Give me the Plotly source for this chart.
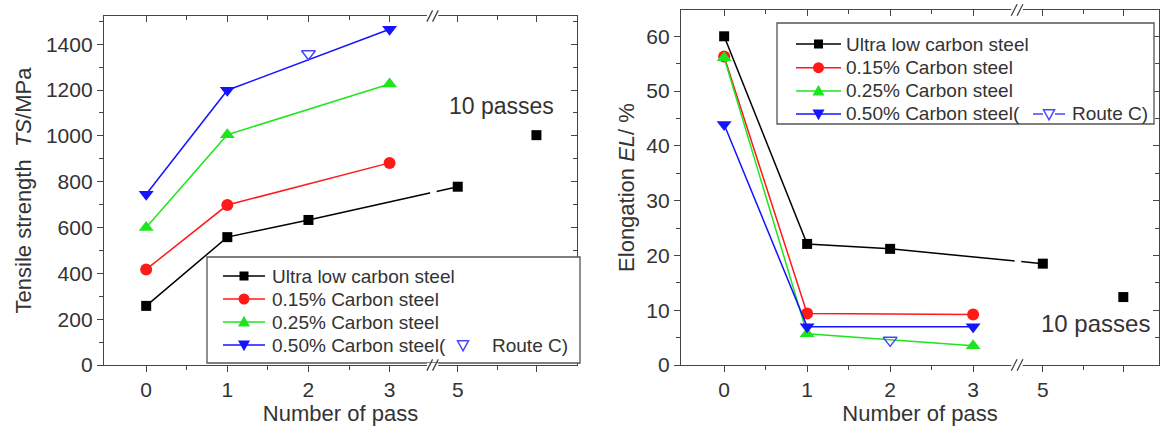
import numpy as np
import plotly.graph_objects as go

# ---------------- data ----------------
passes_ultra = [0, 1, 2, 5]
passes_alloy = [0, 1, 3]
pass_route_c = [2]
pass_ten = [10]

ts_ultra = [258, 558, 633, 778]
ts_ultra_10 = [1003]
ts_015 = [417, 698, 882]
ts_025 = [600, 1005, 1226]
ts_050 = [745, 1199, 1465]
ts_route_c = [1358]

el_ultra = [60.0, 22.1, 21.2, 18.5]
el_ultra_10 = [12.4]
el_015 = [56.3, 9.4, 9.2]
el_025 = [56.1, 5.7, 3.5]
el_050 = [43.9, 7.0, 7.0]
el_route_c = [4.5]

series_names = ["Ultra low carbon steel", "0.15% Carbon steel",
                "0.25% Carbon steel", "0.50% Carbon steel("]
route_c_name = "Route C)"

x_tick_labels = ["0", "1", "2", "3", "5", ""]
tick_passes = [0, 1, 2, 3, 5, 10]
minor_passes = [0.5, 1.5, 2.5, 7.5]

# broken x axis: passes 0-3 linear, then 5 and 10 after the break
BREAK_POS = 3.53
AFTER = {5: 3.84, 7.5: 4.325, 10: 4.81}


def xpos(p):
    return [v if v <= 3 else AFTER[v] for v in p]


W, H = 1160, 430
FONT = "Liberation Sans, Arial, sans-serif"
TXT = "#333333"
AX = "#444444"
BLACK, RED, GREEN, BLUE = "#000000", "#ff1a1a", "#1ee61e", "#1414ff"
OPEN_BLUE = "#4646ff"
COLORS = [BLACK, RED, GREEN, BLUE]
SYMBOLS = ["square", "circle", "triangle-up", "triangle-down"]
SIZES = [10, 12, 13, 13]

fig = go.Figure()


def series(x, y, k, xa, ya, line=True):
    fig.add_trace(go.Scatter(
        x=xpos(x), y=y, xaxis=xa, yaxis=ya, name=series_names[k],
        mode="lines+markers" if line else "markers",
        line=dict(color=COLORS[k], width=1.5),
        marker=dict(color=COLORS[k], symbol=SYMBOLS[k], size=SIZES[k], line=dict(width=0)),
        showlegend=False, hoverinfo="x+y"))


def route_c(x, y, xa, ya):
    fig.add_trace(go.Scatter(
        x=xpos(x), y=y, xaxis=xa, yaxis=ya, mode="markers", name="Route C",
        marker=dict(color=OPEN_BLUE, symbol="triangle-down-open", size=12,
                    line=dict(width=1.5, color=OPEN_BLUE)),
        showlegend=False, hoverinfo="x+y"))


# left panel
series(passes_ultra, ts_ultra, 0, "x", "y")
series(pass_ten, ts_ultra_10, 0, "x", "y", line=False)
series(passes_alloy, ts_015, 1, "x", "y")
series(passes_alloy, ts_025, 2, "x", "y")
series(passes_alloy, ts_050, 3, "x", "y")
route_c(pass_route_c, ts_route_c, "x", "y")

# right panel
series(passes_ultra, el_ultra, 0, "x2", "y2")
series(pass_ten, el_ultra_10, 0, "x2", "y2", line=False)
series(passes_alloy, el_015, 1, "x2", "y2")
series(passes_alloy, el_025, 2, "x2", "y2")
series(passes_alloy, el_050, 3, "x2", "y2")
route_c(pass_route_c, el_route_c, "x2", "y2")

# dummy traces so the inward mirror axes are drawn
for xa, ya in [("x3", "y"), ("x", "y3"), ("x4", "y2"), ("x2", "y4")]:
    fig.add_trace(go.Scatter(x=[None], y=[None], xaxis=xa, yaxis=ya,
                             showlegend=False, hoverinfo="skip"))

tickvals = xpos(tick_passes)
minorvals = xpos(minor_passes)

left_dom = [104 / W, 577 / W]
right_dom = [681 / W, 1159 / W]
ydom_l = [1 - 365 / H, 1 - 16 / H]
ydom_r = [1 - 365 / H, 1 - 10 / H]
xr_l = [-0.52, 5.31]
xr_r = [-0.52, 5.24]
yr_l = [0, 1523]
yr_r = [0, 64.8]

tickfont = dict(family=FONT, size=21, color=TXT)
titlefont = dict(family=FONT, size=22, color=TXT)


def xmain(dom, rng, anchor):
    return dict(domain=dom, range=rng, anchor=anchor, tickvals=tickvals, ticktext=x_tick_labels,
                showline=True, linecolor=AX, linewidth=1.3, mirror=True,
                ticks="outside", ticklen=6, tickwidth=1.3, tickcolor=AX,
                minor=dict(tickvals=minorvals, ticks="outside", ticklen=4, tickcolor=AX, tickwidth=1.2),
                showgrid=False, zeroline=False, tickfont=tickfont,
                title=dict(text="Number of pass", font=titlefont, standoff=2))


def xmirror(over, rng, anchor):
    return dict(overlaying=over, side="top", anchor=anchor, range=rng, tickvals=tickvals,
                showticklabels=False, showline=False, ticks="inside", ticklen=6,
                tickwidth=1.3, tickcolor=AX,
                minor=dict(tickvals=minorvals, ticks="inside", ticklen=4, tickcolor=AX, tickwidth=1.2),
                showgrid=False, zeroline=False)


def ymain(dom, rng, anchor, dtick, title, standoff):
    return dict(domain=dom, range=rng, anchor=anchor, dtick=dtick,
                showline=True, linecolor=AX, linewidth=1.3, mirror=True,
                ticks="outside", ticklen=6, tickwidth=1.3, tickcolor=AX,
                minor=dict(dtick=dtick / 2, ticks="outside", ticklen=4, tickcolor=AX, tickwidth=1.2),
                showgrid=False, zeroline=False, tickfont=tickfont,
                title=dict(text=title, font=titlefont, standoff=standoff))


def ymirror(over, rng, anchor, dtick):
    return dict(overlaying=over, side="right", anchor=anchor, range=rng, dtick=dtick,
                showticklabels=False, showline=False, ticks="inside", ticklen=6,
                tickwidth=1.3, tickcolor=AX,
                minor=dict(dtick=dtick / 2, ticks="inside", ticklen=4, tickcolor=AX, tickwidth=1.2),
                showgrid=False, zeroline=False)


def px(x):
    return x / W


def py(y):
    return 1 - y / H


shapes = []
annotations = []


def marker_shape(cx, cy, sym, color, size, open_=False):
    h = size / 2
    fill = "rgba(0,0,0,0)" if open_ else color
    lw = 1.5 if open_ else 0
    if sym == "square":
        shapes.append(dict(type="rect", xref="paper", yref="paper", layer="above",
                           x0=px(cx - h), x1=px(cx + h), y0=py(cy + h), y1=py(cy - h),
                           fillcolor=fill, line=dict(width=lw, color=color)))
    elif sym == "circle":
        shapes.append(dict(type="circle", xref="paper", yref="paper", layer="above",
                           x0=px(cx - h), x1=px(cx + h), y0=py(cy + h), y1=py(cy - h),
                           fillcolor=fill, line=dict(width=lw, color=color)))
    else:
        if sym == "triangle-up":
            pts = [(cx, cy - h * 1.05), (cx + h, cy + h * 0.75), (cx - h, cy + h * 0.75)]
        else:
            pts = [(cx, cy + h * 1.05), (cx + h, cy - h * 0.75), (cx - h, cy - h * 0.75)]
        path = "M " + " L ".join(f"{px(a):.5f},{py(b):.5f}" for a, b in pts) + " Z"
        shapes.append(dict(type="path", xref="paper", yref="paper", layer="above", path=path,
                           fillcolor=fill, line=dict(width=lw, color=color)))


def hline(x0, x1, y, color):
    shapes.append(dict(type="line", xref="paper", yref="paper", layer="above",
                       x0=px(x0), x1=px(x1), y0=py(y), y1=py(y),
                       line=dict(color=color, width=1.5)))


def text(x, y, s, size=19):
    annotations.append(dict(x=px(x), y=py(y), xref="paper", yref="paper", text=s,
                            showarrow=False, xanchor="left", yanchor="middle",
                            font=dict(family=FONT, size=size, color=TXT)))


# gap in the connecting line where the axis is broken
for xr, yr, ys, rng in [("x", "y", ts_ultra, yr_l), ("x2", "y2", el_ultra, yr_r)]:
    yb = float(np.interp(BREAK_POS, xpos(passes_ultra), ys))
    dy = (rng[1] - rng[0]) * 0.018
    shapes.append(dict(type="rect", xref=xr, yref=yr, layer="above",
                       x0=BREAK_POS - 0.03, x1=BREAK_POS + 0.05, y0=yb - dy, y1=yb + dy,
                       fillcolor="white", line=dict(width=0)))


def legend_box(box, sym_x, text_x, rows, route_x, route_text_x, route_line):
    x0, y0, x1, y1 = box
    shapes.append(dict(type="rect", xref="paper", yref="paper", layer="above",
                       x0=px(x0), x1=px(x1), y0=py(y1), y1=py(y0),
                       line=dict(color="#555555", width=1.3), fillcolor="white"))
    for k, ry in enumerate(rows):
        hline(sym_x[0], sym_x[1], ry, COLORS[k])
        marker_shape((sym_x[0] + sym_x[1]) / 2, ry, SYMBOLS[k], COLORS[k], SIZES[k] - 1)
        text(text_x, ry, series_names[k])
    ry = rows[-1]
    if route_line:
        hline(route_x - 16, route_x + 16, ry, OPEN_BLUE)
        shapes.append(dict(type="rect", xref="paper", yref="paper", layer="above",
                           x0=px(route_x - 6), x1=px(route_x + 6), y0=py(ry + 6), y1=py(ry - 6),
                           fillcolor="white", line=dict(width=0)))
    marker_shape(route_x, ry, "triangle-down", OPEN_BLUE, 11, open_=True)
    text(route_text_x, ry, route_c_name)


legend_box((207, 257, 580, 363), (223, 265), 270, [276, 299, 322, 345], 463, 490, False)
legend_box((777, 23, 1154, 124), (796, 841), 844, [44, 67.7, 91, 114], 1049, 1070, True)

# axis break marks
for xr, yr in [("x", "y domain"), ("x2", "y2 domain")]:
    for yb in (0, 1):
        shapes.append(dict(type="rect", xref=xr, yref=yr, layer="above",
                           x0=BREAK_POS - 0.07, x1=BREAK_POS + 0.07, y0=yb - 0.006, y1=yb + 0.006,
                           line=dict(width=0), fillcolor="white"))
        for dx in (-0.035, 0.035):
            shapes.append(dict(type="line", xref=xr, yref=yr, layer="above",
                               x0=BREAK_POS + dx - 0.035, x1=BREAK_POS + dx + 0.035,
                               y0=yb - 0.016, y1=yb + 0.016,
                               line=dict(color=AX, width=1.3)))

annotations += [
    dict(x=AFTER[10] - 0.43, y=1131, xref="x", yref="y", text="10 passes", showarrow=False,
         font=dict(family=FONT, size=23, color=TXT)),
    dict(x=AFTER[10] - 0.33, y=7.5, xref="x2", yref="y2", text="10 passes", showarrow=False,
         font=dict(family=FONT, size=24, color=TXT)),
]

fig.update_layout(
    width=W, height=H, autosize=False, margin=dict(l=0, r=0, t=0, b=0, autoexpand=False),
    paper_bgcolor="white", plot_bgcolor="white", showlegend=False,
    xaxis=xmain(left_dom, xr_l, "y"),
    yaxis=ymain(ydom_l, yr_l, "x", 200, "Tensile strength  <i>TS</i>/MPa", 8),
    xaxis2=xmain(right_dom, xr_r, "y2"),
    yaxis2=ymain(ydom_r, yr_r, "x2", 10, "Elongation <i>EL</i>/ %", 5),
    xaxis3=xmirror("x", xr_l, "y"),
    yaxis3=ymirror("y", yr_l, "x", 200),
    xaxis4=xmirror("x2", xr_r, "y2"),
    yaxis4=ymirror("y2", yr_r, "x2", 10),
    shapes=shapes, annotations=annotations,
    font=dict(family=FONT, color=TXT),
)

fig.write_html("out.html",
               config={"responsive": False, "displayModeBar": False},
               post_script="document.body.style.margin='0';document.body.style.overflow='hidden';")
